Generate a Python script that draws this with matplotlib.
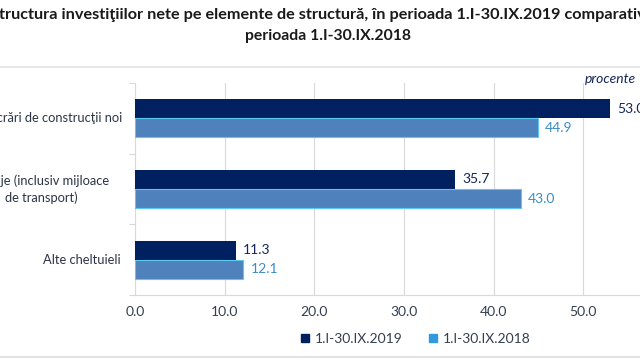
import matplotlib

matplotlib.use("Agg")
import matplotlib.pyplot as plt
from matplotlib.lines import Line2D
from matplotlib.ticker import FixedLocator
from matplotlib.transforms import offset_copy

plt.rcParams["font.family"] = ["Lato", "DejaVu Sans"]

categories = [
    "Lucrări de construcţii noi",
    "Utilaje (inclusiv mijloace\nde transport)",
    "Alte cheltuieli",
]
series_names = ["1.I-30.IX.2019", "1.I-30.IX.2018"]
values_2019 = [53.0, 35.7, 11.3]
values_2018 = [44.9, 43.0, 12.1]
x_ticks = [0, 10, 20, 30, 40, 50, 60]

dark = "#002060"
light = "#4F81BD"
light_edge = "#5BC8F0"
dark_text = "#14265A"
light_text = "#3A8DC8"
grid_col = "#D9D9D9"
cat_col = "#2B3445"

fig = plt.figure(figsize=(6.4, 3.6), dpi=100)
ax = fig.add_axes([135 / 640, 65 / 360, 538 / 640, 212 / 360])

h = 0.27
pos = list(range(len(categories)))
ax.barh([p - h / 2 for p in pos], values_2019, height=h, color=dark, zorder=3)
ax.barh([p + h / 2 for p in pos], values_2018, height=h, color=light,
        edgecolor=light_edge, linewidth=0.8, zorder=3)

for p, v in zip(pos, values_2019):
    ax.annotate(f"{v:.1f}", (v, p - h / 2), xytext=(5, 0), textcoords="offset points",
                va="center", ha="left", fontsize=10, color=dark_text)
for p, v in zip(pos, values_2018):
    ax.annotate(f"{v:.1f}", (v, p + h / 2), xytext=(5, 0), textcoords="offset points",
                va="center", ha="left", fontsize=10, color=light_text)

ax.set_xlim(0, 60)
ax.set_ylim(2.5, -0.5)
ax.set_xticks(x_ticks)
ax.set_xticklabels([f"{t:.1f}" for t in x_ticks], fontsize=10, color="#333F50")
ax.tick_params(axis="x", length=0, pad=8)
ax.xaxis.grid(True, color=grid_col, linewidth=0.8, zorder=0)

# category labels: Excel puts the wrapped one a bit further left
ax.set_yticks(pos)
ax.set_yticklabels([])
ax.tick_params(axis="y", which="major", length=0)
ax.yaxis.set_minor_locator(FixedLocator([-0.5, 0.5, 1.5, 2.5]))
ax.tick_params(axis="y", which="minor", length=4, color=grid_col, width=0.8)
label_shift = [-13, -26, -14]
for p, name, dx in zip(pos, categories, label_shift):
    tr = offset_copy(ax.get_yaxis_transform(), fig=fig, x=dx, y=0, units="dots")
    ax.text(0, p, name, transform=tr, ha="right", va="center", multialignment="center",
            fontsize=9.3, color=cat_col, linespacing=1.45)

for side in ["top", "right"]:
    ax.spines[side].set_visible(False)
ax.spines["left"].set_color(grid_col)
ax.spines["bottom"].set_color(grid_col)

fig.text(-10 / 640, 1 - 15 / 360,
         "Structura investiţiilor nete pe elemente de structură, în perioada 1.I-30.IX.2019 comparativ cu",
         ha="left", va="center", fontsize=11.7, fontweight="bold", color="#1A1A1A")
fig.text(328 / 640, 1 - 36 / 360, "perioada 1.I-30.IX.2018",
         ha="center", va="center", fontsize=11.3, fontweight="bold", color="#1A1A1A")
fig.text(585 / 640, 1 - 79 / 360, "procente", ha="left", va="center",
         fontsize=10, style="italic", color=dark_text)

fig.add_artist(Line2D([0, 1], [1 - 67 / 360] * 2, color="#E3E3E3", linewidth=1.2))
fig.add_artist(Line2D([0, 1], [1 - 357 / 360] * 2, color="#E3E3E3", linewidth=1.5))

handles = [
    Line2D([], [], marker="s", linestyle="", markersize=5.5, color=dark),
    Line2D([], [], marker="s", linestyle="", markersize=5.5, color="#3399DD"),
]
fig.legend(handles, series_names, loc="center", bbox_to_anchor=(414 / 640, 1 - 339 / 360),
           ncol=2, frameon=False, fontsize=10, handletextpad=0.1, columnspacing=1.6,
           handlelength=1.2, labelcolor="#333F50")

fig.savefig("out.png", dpi=100)
